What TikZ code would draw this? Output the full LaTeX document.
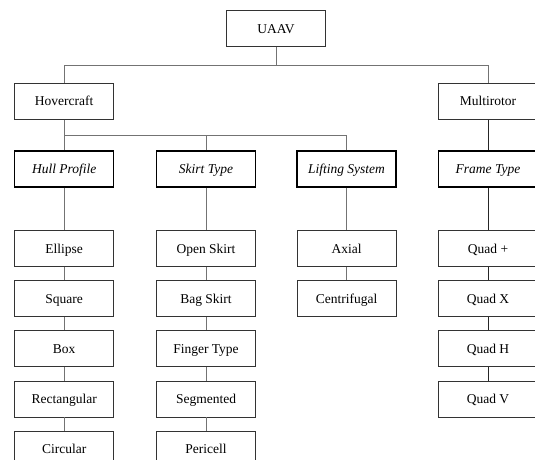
\documentclass[tikz,border=0pt]{standalone}
\usepackage{fontspec}
\setmainfont{Liberation Serif}
\usepackage{tikz}
\usetikzlibrary {positioning}
\tikzset{
        base/.style={draw=black!80, line width=0.7pt, align=center,
                     minimum width=99pt, minimum height=36pt, inner sep=0pt,
                     text height=10pt, text depth=1pt,
                     font=\fontsize{13.5}{16}\selectfont},
        leaf/.style={base},
        cat/.style={base, draw=black, line width=1.4pt, font=\fontsize{13.5}{16}\selectfont\itshape},
        link/.style={draw=black!55, line width=0.8pt},
        darklink/.style={draw=black!85, line width=0.6pt},
 }

\begin{document}
\begin{tikzpicture}[x=1pt, y=-1pt, node distance=13.4pt]
    \useasboundingbox (0,0) rectangle (535,460);

    \node[leaf] (uaav)  at (276,28.7)  {UAAV};
    \node[leaf] (hover) at (64.2,101.3) {Hovercraft};
    \node[leaf] (multi) at (488,101.3) {Multirotor};

    \node[cat] (hull)  at (64.2,169) {Hull Profile};
    \node[cat] (skirt) at (206,169)  {Skirt Type};
    \node[cat] (lift)  at (346.5,169) {Lifting System};
    \node[cat] (frame) at (488,169)  {Frame Type};

    % hull column
    \node[leaf, below=42.5pt of hull] (ellipse) {Ellipse};
    \node[leaf, below= of ellipse] (square) {Square};
    \node[leaf, below= of square] (box) {Box};
    \node[leaf, below= of box] (rect) {Rectangular};
    \node[leaf, below= of rect] (circ) {Circular};

    % skirt column
    \node[leaf, below=42.5pt of skirt] (open) {Open Skirt};
    \node[leaf, below= of open] (bag) {Bag Skirt};
    \node[leaf, below= of bag] (finger) {Finger Type};
    \node[leaf, below= of finger] (segm) {Segmented};
    \node[leaf, below= of segm] (peri) {Pericell};

    % lifting column
    \node[leaf, below=42.5pt of lift] (axial) {Axial};
    \node[leaf, below= of axial] (centri) {Centrifugal};

    % frame column
    \node[leaf, below=42.5pt of frame] (qplus) {Quad +};
    \node[leaf, below= of qplus] (qx) {Quad X};
    \node[leaf, below= of qx] (qh) {Quad H};
    \node[leaf, below= of qh] (qv) {Quad V};

    \coordinate (topbus) at (276,65.5);
    \coordinate (hoverbus) at (64.2,135.3);

    \draw[link] (uaav) -- (topbus);
    \draw[link] (hover) |- (topbus) -| (multi);
    \draw[link] (hover) -- (hull);
    \draw[link] (hoverbus) -| (skirt);
    \draw[link] (hoverbus) -| (lift);

    \draw[link] (hull) -- (ellipse) -- (square) -- (box) -- (rect) -- (circ);
    \draw[link] (skirt) -- (open) -- (bag) -- (finger) -- (segm) -- (peri);
    \draw[link] (lift) -- (axial) -- (centri);
    \draw[darklink] (multi) -- (frame) -- (qplus) -- (qx) -- (qh) -- (qv);
\end{tikzpicture}
\end{document}
